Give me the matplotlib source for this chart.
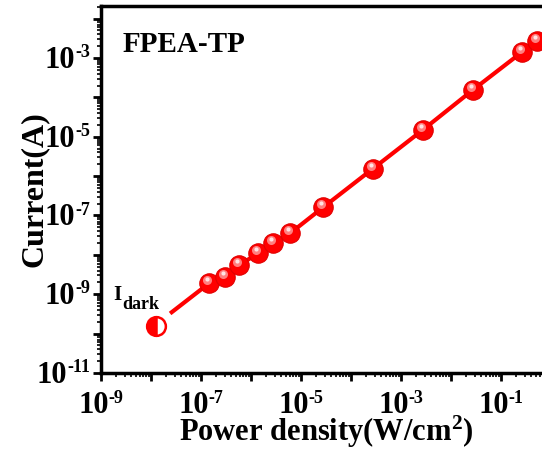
import matplotlib
matplotlib.use('Agg')
import matplotlib.pyplot as plt
import matplotlib.transforms as mtransforms
from matplotlib.ticker import LogLocator, NullFormatter
import numpy as np

# === datos ===
power = [1.45e-7, 3.0e-7, 5.8e-7, 1.4e-6, 2.75e-6, 6.0e-6, 2.75e-5,
         2.75e-4, 2.75e-3, 2.75e-2, 0.26, 0.52]
current = [1.9e-9, 2.8e-9, 5.5e-9, 1.1e-8, 2.0e-8, 3.5e-8, 1.6e-7,
           1.55e-6, 1.5e-5, 1.55e-4, 1.4e-3, 2.75e-3]
dark_power = 1.26e-8
dark_current = 1.6e-10
line_start = (2.6e-8, 3.5e-10)   # el ajuste baja un poco por debajo del primer punto

x_label_exps = [-9, -7, -5, -3, -1]
y_label_exps = [-11, -9, -7, -5, -3]

DPI = 100
plt.rcParams['font.family'] = ['Liberation Serif', 'DejaVu Serif']
plt.rcParams['font.weight'] = 'bold'
plt.rcParams['mathtext.fontset'] = 'custom'
plt.rcParams['mathtext.rm'] = 'Liberation Serif:bold'
plt.rcParams['mathtext.it'] = 'Liberation Serif:bold'
plt.rcParams['mathtext.bf'] = 'Liberation Serif:bold'
plt.rcParams['mathtext.default'] = 'rm'

fig = plt.figure(figsize=(5.42, 4.5), dpi=DPI)
ax = fig.add_axes([101/542, 77/450, 450/542, 367/450])
ax.set_xscale('log')
ax.set_yscale('log')
ax.set_xlim(1e-9, 1e0)
ax.set_ylim(1e-11, 10**-1.68)

red = '#ff0000'
ax.plot([line_start[0]] + power, [line_start[1]] + current, color=red, lw=3, zorder=2)
ax.plot(power, current, 'o', color=red, ms=14, mec='#e00000', mew=0.8, zorder=3)

# brillo de las esferas
hl = mtransforms.offset_copy(ax.transData, fig=fig, x=-2, y=3, units='dots')
ax.plot(power, current, 'o', color='#ff8080', ms=6.5, mew=0, transform=hl, zorder=4)
hl2 = mtransforms.offset_copy(ax.transData, fig=fig, x=-2, y=4, units='dots')
ax.plot(power, current, 'o', color='#ffe4e4', ms=3, mew=0, transform=hl2, zorder=5)

# corriente oscura
ax.plot([dark_power], [dark_current], 'o', ms=13.5, color=red, fillstyle='left',
        markerfacecoloralt='white', mec=red, mew=1.8, zorder=3)

# I_dark (subindice casi del mismo tamano que la I)
ax.text(1.74e-9, 10**-9.155, 'I', fontsize=15, fontweight='bold', va='baseline')
ax.annotate('dark', xy=(1.74e-9, 10**-9.155), xytext=(7, -6.5), textcoords='offset points',
            fontsize=13, fontweight='bold', va='baseline')

ax.text(0.047, 0.875, 'FPEA-TP', transform=ax.transAxes, fontsize=21,
        fontweight='bold', va='baseline', ha='left')

for axis in (ax.xaxis, ax.yaxis):
    axis.set_major_locator(LogLocator(base=10, numticks=30))
    axis.set_minor_locator(LogLocator(base=10, subs=np.arange(2, 10), numticks=30))
    axis.set_major_formatter(NullFormatter())
    axis.set_minor_formatter(NullFormatter())

ax.tick_params(which='major', direction='out', length=6, width=2)
ax.tick_params(which='minor', direction='out', length=3, width=1.2)
ax.tick_params(top=False, right=False)
for s in ax.spines.values():
    s.set_linewidth(2.5)

# etiquetas 10^-n con guion corto y exponente pequeno, como en el original
def tick_label(e, which):
    if which == 'x':
        xy, xc = (10.0**e, 0), ('data', 'axes fraction')
    else:
        xy, xc = (0, 10.0**e), ('axes fraction', 'data')
    kw = dict(xycoords=xc, xytext=(0, 0), textcoords='offset points', va='baseline',
              ha='left', fontweight='bold', annotation_clip=False)
    return ax.annotate('10', xy=xy, fontsize=22, **kw), ax.annotate('-%d' % abs(e), xy=xy, fontsize=13, **kw)

labels = [('x', tick_label(e, 'x')) for e in x_label_exps] + [('y', tick_label(e, 'y')) for e in y_label_exps]

ax.set_xlabel(r'Power density(W/cm$^{2}$)', fontsize=22, fontweight='bold', va='baseline')
ax.xaxis.set_label_coords(0.5, (373 - 441) / 367)
ax.set_ylabel('Current(A)', fontsize=23, fontweight='bold', va='baseline')
ax.yaxis.set_label_coords((42 - 101) / 450, 0.5)

fig.canvas.draw()
r = fig.canvas.get_renderer()
for which, (base, expo) in labels:
    w10 = base.get_window_extent(r).width * 72 / DPI
    we = expo.get_window_extent(r).width * 72 / DPI
    if which == 'x':
        W = w10 + we
        base.xyann = (-W / 2, -28.8)
        expo.xyann = (-W / 2 + w10, -21.6)
    else:
        expo.xyann = (-8 - we, 0.7)
        base.xyann = (-8 - we - w10, -7.2)

plt.savefig('out.png', dpi=DPI)
